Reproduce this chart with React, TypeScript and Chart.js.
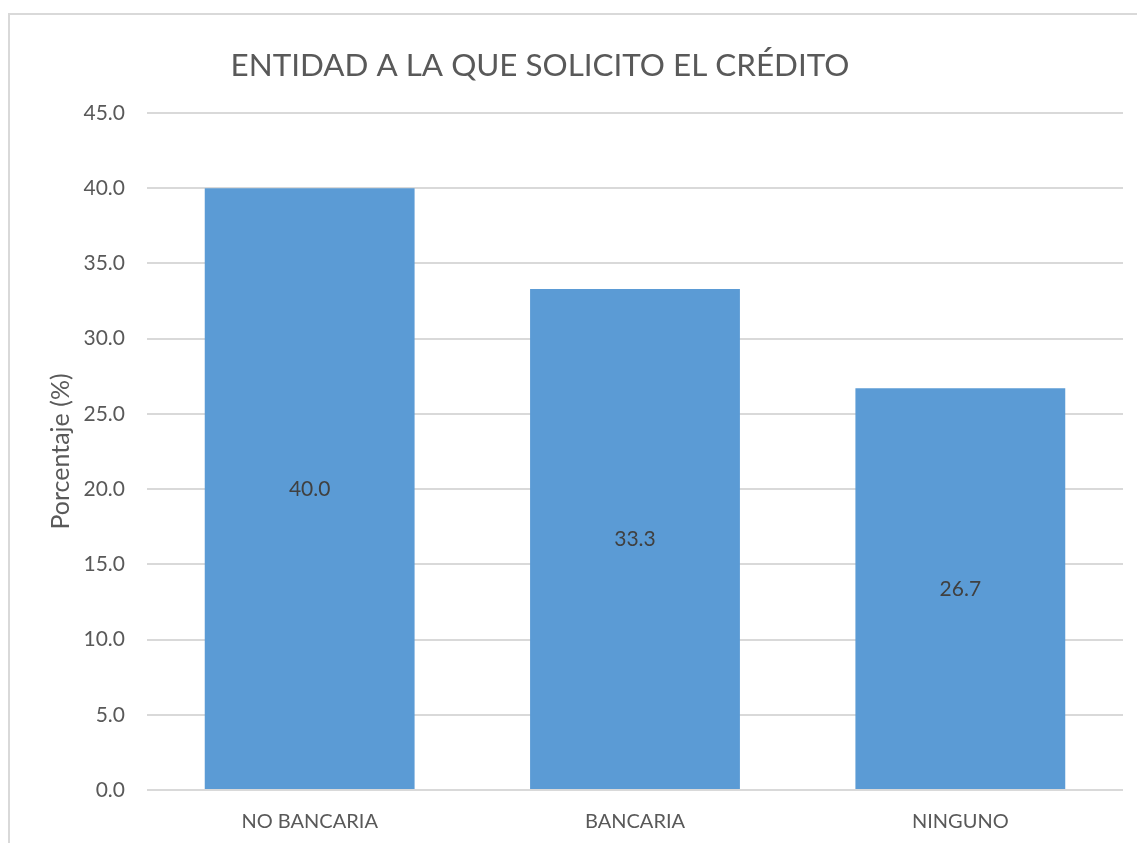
import React, { useEffect, useRef } from "react";
import { Chart, registerables } from "chart.js";

Chart.register(...registerables);

const categories = ["NO BANCARIA", "BANCARIA", "NINGUNO"];
const percentages = [40.0, 33.3, 26.7];
const titleText = "ENTIDAD A LA QUE SOLICITO EL CRÉDITO";
const yAxisTitle = "Porcentaje (%)";

const FONT = "Lato, 'Open Sans', sans-serif";

const valueLabels = {
  id: "valueLabels",
  afterDatasetsDraw(chart: any) {
    const ctx = chart.ctx;
    const meta = chart.getDatasetMeta(0);
    const y = chart.scales.y;
    ctx.save();
    ctx.font = `21px ${FONT}`;
    ctx.fillStyle = "#404040";
    ctx.textAlign = "center";
    ctx.textBaseline = "middle";
    meta.data.forEach((bar: any, i: number) => {
      const v = percentages[i];
      ctx.fillText(v.toFixed(1), bar.x, y.getPixelForValue(v / 2));
    });
    ctx.restore();
  },
};

const titlePlugin = {
  id: "customTitle",
  afterDraw(chart: any) {
    const ctx = chart.ctx;
    ctx.save();
    ctx.font = `31.4px ${FONT}`;
    ctx.fillStyle = "#595959";
    ctx.textAlign = "center";
    ctx.textBaseline = "middle";
    ctx.fillText(titleText, 540, 66);
    ctx.restore();
  },
};

export default function App() {
  const ref = useRef<HTMLCanvasElement>(null);
  useEffect(() => {
    if (!ref.current) return;
    const chart = new Chart(ref.current, {
      type: "bar",
      data: {
        labels: categories,
        datasets: [
          {
            data: percentages,
            backgroundColor: "#5B9BD5",
            borderWidth: 0,
            categoryPercentage: 1,
            barPercentage: 0.645,
          },
        ],
      },
      plugins: [valueLabels, titlePlugin],
      options: {
        animation: false,
        responsive: false,
        maintainAspectRatio: false,
        layout: { padding: { left: 46, top: 113, right: 14, bottom: 0 } },
        plugins: {
          legend: { display: false },
          title: { display: false },
          tooltip: { enabled: false },
        },
        scales: {
          x: {
            grid: { display: false, drawTicks: false },
            border: { display: false },
            ticks: {
              color: "#595959",
              font: { family: FONT, size: 20 },
              padding: 20,
              maxRotation: 0,
            },
            afterFit(scale: any) {
              scale.height = 843 - 790;
            },
          },
          y: {
            min: 0,
            max: 45,
            grid: { color: "#d9d9d9", lineWidth: 2, drawTicks: false },
            border: { display: false },
            ticks: {
              stepSize: 5,
              color: "#595959",
              font: { family: FONT, size: 21 },
              padding: 22,
              callback: (v: any) => Number(v).toFixed(1),
            },
            title: {
              display: true,
              text: yAxisTitle,
              color: "#595959",
              font: { family: FONT, size: 25 },
              padding: 0,
            },
            afterFit(scale: any) {
              scale.width = 147 - 46;
            },
          },
        },
      },
    });
    return () => chart.destroy();
  }, []);

  return (
    <div style={{ position: "fixed", left: 0, top: 0, width: 1137, height: 843, overflow: "hidden", background: "#fff" }}>
      <div
        style={{
          position: "absolute",
          left: 8,
          top: 13,
          width: 1300,
          height: 1000,
          border: "2px solid #d9d9d9",
          boxSizing: "border-box",
        }}
      />
      <canvas ref={ref} width={1137} height={843} style={{ position: "absolute", left: 0, top: 0, width: 1137, height: 843 }} />
    </div>
  );
}
